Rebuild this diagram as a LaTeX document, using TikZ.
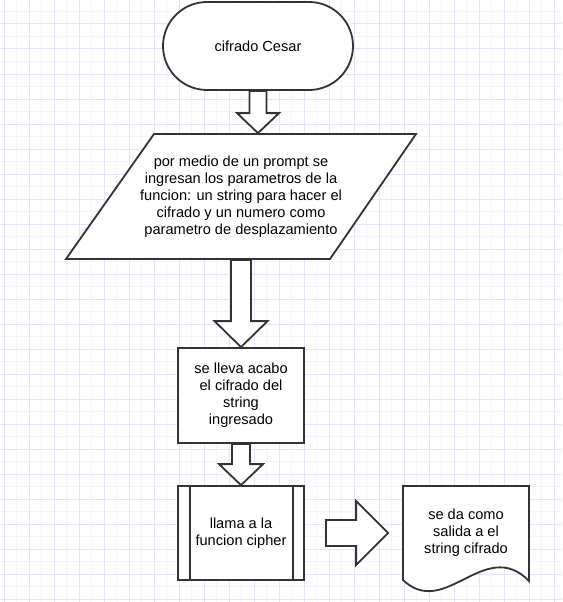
\documentclass[tikz,border=0pt]{standalone}
\usepackage{fontspec}
\setmainfont{Liberation Sans}
\usepackage{tikz}
\usetikzlibrary{calc}

\definecolor{gridmain}{RGB}{228,228,250}
\definecolor{gridfine}{RGB}{244,244,250}
\definecolor{inkgray}{RGB}{51,51,51}

\tikzset{
    shapeline/.style={draw=inkgray, line width=1.8pt, fill=white, line join=miter},
    chartbox/.style={shapeline, rectangle, inner sep=0pt, align=center,
        font=\fontsize{14.6}{17}\selectfont},
    terminal/.style={chartbox, rounded corners=44pt, minimum width=190, minimum height=88},
    textonly/.style={chartbox, draw=none, fill=none},
    process/.style={chartbox, minimum width=126, minimum height=95}
}

\newcommand{\blockdown}[5]{%
    \draw[shapeline] let \p1=(#1.south), \p2=(#2.north) in
        (\x1-#3,\y1) -- (\x1-#3,\y2+#5) -- (\x1-#4,\y2+#5) -- (\x1,\y2)
        -- (\x1+#4,\y2+#5) -- (\x1+#3,\y2+#5) -- (\x1+#3,\y1) -- cycle;}

\begin{document}
\begin{tikzpicture}[x=1pt, y=-1pt]
    \useasboundingbox (0,0) rectangle (562,602);
    \fill[white] (0,0) rectangle (562,602);
    \foreach \x in {16.5,41.5,...,541.5}
        \draw[gridfine, line width=1pt] (\x,0) -- (\x,602);
    \foreach \y in {11.5,36.5,...,586.5}
        \draw[gridfine, line width=1pt] (0,\y) -- (562,\y);
    \foreach \x in {4,29,...,554}
        \draw[gridmain, line width=1pt] (\x,0) -- (\x,602);
    \foreach \y in {24,49,...,599}
        \draw[gridmain, line width=1pt] (0,\y) -- (562,\y);

    \node[terminal] (start) at (258,46) {cifrado Cesar};

    \coordinate (inputc) at (241,196.5);
    \draw[shapeline] ($(inputc)+(-175,62.5)$) -- ($(inputc)+(-87,-62.5)$)
        -- ($(inputc)+(175,-62.5)$) -- ($(inputc)+(89,62.5)$) -- cycle;
    \node[textonly, minimum width=350, minimum height=125] (input) at (inputc) {por medio de un prompt se\\ingresan los parametros de la\\funcion: un string para hacer el\\cifrado y un numero como\\parametro de desplazamiento};

    \node[process] (cipher) at (241,395.5) {se lleva acabo\\el cifrado del\\string\\ingresado};

    \node[process, minimum height=94] (sub) at (241,533) {llama a la\\funcion cipher};
    \draw[inkgray, line width=1.8pt] ([xshift=13]sub.north west) -- ([xshift=13]sub.south west);
    \draw[inkgray, line width=1.8pt] ([xshift=-12]sub.north east) -- ([xshift=-12]sub.south east);

    \coordinate (outc) at (466,533);
    \draw[shapeline] ($(outc)+(-63,-47)$) -- ($(outc)+(63,-47)$) -- ($(outc)+(63,48)$)
        .. controls +(-44,-45) and +(42,40) .. ($(outc)+(-63,47)$) -- cycle;
    \node[textonly, minimum width=126, minimum height=94] (out) at (outc) {se da como\\salida a el\\string cifrado};

    \blockdown{start}{input}{8.5}{21}{20}
    \blockdown{input}{cipher}{10}{26.5}{26}
    \blockdown{cipher}{sub}{9}{22}{21}
    \draw[shapeline] let \p1=(sub.east), \p2=(out.west) in
        (\x1+21,\y1-13) -- (\x2-46,\y1-13) -- (\x2-46,\y1-32) -- (\x2-14,\y1)
        -- (\x2-46,\y1+32) -- (\x2-46,\y1+13) -- (\x1+21,\y1+13) -- cycle;
\end{tikzpicture}
\end{document}
